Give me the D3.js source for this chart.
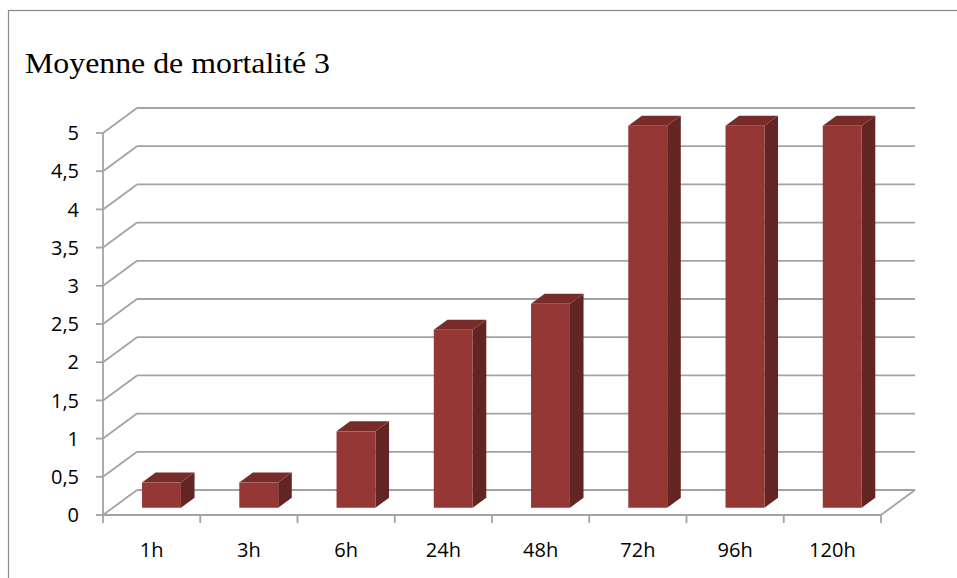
<!DOCTYPE html>
<html>
<head>
<meta charset="utf-8">
<script src="https://cdn.jsdelivr.net/npm/d3@7/dist/d3.min.js"></script>
<style>
  html, body { margin: 0; padding: 0; background: #fff; }
  svg { display: block; }
</style>
</head>
<body>
<script>
// Mean mortality over exposure time
const categories = ["1h", "3h", "6h", "24h", "48h", "72h", "96h", "120h"];
const values = [0.33, 0.33, 1.0, 2.33, 2.67, 5, 5, 5];
const yTicks = [0, 0.5, 1, 1.5, 2, 2.5, 3, 3.5, 4, 4.5, 5];
const yTickLabels = ["0", "0,5", "1", "1,5", "2", "2,5", "3", "3,5", "4", "4,5", "5"];
const title = "Moyenne de mortalité 3";

const W = 957, H = 578;
const svg = d3.select("body").append("svg").attr("width", W).attr("height", H);

// chart frame
svg.append("rect").attr("x", 8.5).attr("y", 10.5).attr("width", W + 10).attr("height", H + 10)
  .attr("fill", "#fff").attr("stroke", "#8a8a8a").attr("stroke-width", 1.2);

svg.append("text").attr("x", 25).attr("y", 73)
  .attr("font-family", "'Liberation Serif', 'Times New Roman', serif")
  .attr("font-size", 30).attr("fill", "#000")
  .attr("textLength", 305).attr("lengthAdjust", "spacingAndGlyphs")
  .text(title);

// front-plane scales
const x = d3.scaleBand().domain(categories).range([103, 881]).paddingInner(0).paddingOuter(0);
const y = d3.scaleLinear().domain([0, 5]).range([515, 133]);
// oblique depth projection (0 = front, 1 = back wall)
const dx = d3.scaleLinear().domain([0, 1]).range([0, 34]);
const dy = d3.scaleLinear().domain([0, 1]).range([0, -25]);

const gridColor = "#a3a3a3";
const grid = svg.append("g").attr("stroke", gridColor).attr("stroke-width", 1.8).attr("fill", "none");

// back wall gridlines
grid.selectAll("line.back").data(yTicks).join("line")
  .attr("x1", x.range()[0] + dx(1)).attr("x2", x.range()[1] + dx(1))
  .attr("y1", d => y(d) + dy(1)).attr("y2", d => y(d) + dy(1));
// side wall diagonals
grid.selectAll("line.side").data(yTicks).join("line")
  .attr("x1", x.range()[0]).attr("x2", x.range()[0] + dx(1))
  .attr("y1", d => y(d)).attr("y2", d => y(d) + dy(1));
// floor right edge
grid.append("line")
  .attr("x1", x.range()[1]).attr("y1", y(0))
  .attr("x2", x.range()[1] + dx(1)).attr("y2", y(0) + dy(1));

// bars as boxes
const d0 = 0.29, d1 = 0.69;
const widthRatio = 0.4;
const bw = x.bandwidth() * widthRatio;
const bars = svg.append("g");
categories.forEach((c, i) => {
  const v = values[i];
  const xl = x(c) + (x.bandwidth() - bw) / 2 + dx(d0);
  const xr = xl + bw;
  const yb = y(0) + dy(d0);
  const yt = y(v) + dy(d0);
  const ox = dx(d1) - dx(d0), oy = dy(d1) - dy(d0);
  const g = bars.append("g");
  // side face
  g.append("path").attr("d", `M${xr},${yb}L${xr + ox},${yb + oy}L${xr + ox},${yt + oy}L${xr},${yt}Z`)
    .attr("fill", "#632523");
  // top face
  g.append("path").attr("d", `M${xl},${yt}L${xr},${yt}L${xr + ox},${yt + oy}L${xl + ox},${yt + oy}Z`)
    .attr("fill", "#772c2a");
  // front face
  g.append("rect").attr("x", xl).attr("y", yt).attr("width", bw).attr("height", yb - yt)
    .attr("fill", "#953735");
});

// front axes
const axes = svg.append("g").attr("stroke", gridColor).attr("stroke-width", 1.8);
axes.append("line").attr("x1", x.range()[0]).attr("x2", x.range()[0]).attr("y1", y(5)).attr("y2", y(0));
axes.append("line").attr("x1", x.range()[0]).attr("x2", x.range()[1]).attr("y1", y(0)).attr("y2", y(0));
axes.selectAll("line.yt").data(yTicks).join("line")
  .attr("x1", x.range()[0] - 7).attr("x2", x.range()[0]).attr("y1", d => y(d)).attr("y2", d => y(d));
const bounds = categories.map(c => x(c)).concat([x.range()[1]]);
axes.selectAll("line.xt").data(bounds).join("line")
  .attr("x1", d => d).attr("x2", d => d).attr("y1", y(0)).attr("y2", y(0) + 8);

const font = "'Open Sans', sans-serif";
svg.append("g").selectAll("text").data(yTicks).join("text")
  .attr("x", 79).attr("y", d => y(d)).attr("dy", "0.36em")
  .attr("text-anchor", "end").attr("font-family", font).attr("font-size", 20).attr("fill", "#000")
  .text((d, i) => yTickLabels[i]);

svg.append("g").selectAll("text").data(categories).join("text")
  .attr("x", d => x(d) + x.bandwidth() / 2).attr("y", 557)
  .attr("text-anchor", "middle").attr("font-family", font).attr("font-size", 20).attr("fill", "#000")
  .text(d => d);
</script>
</body>
</html>
